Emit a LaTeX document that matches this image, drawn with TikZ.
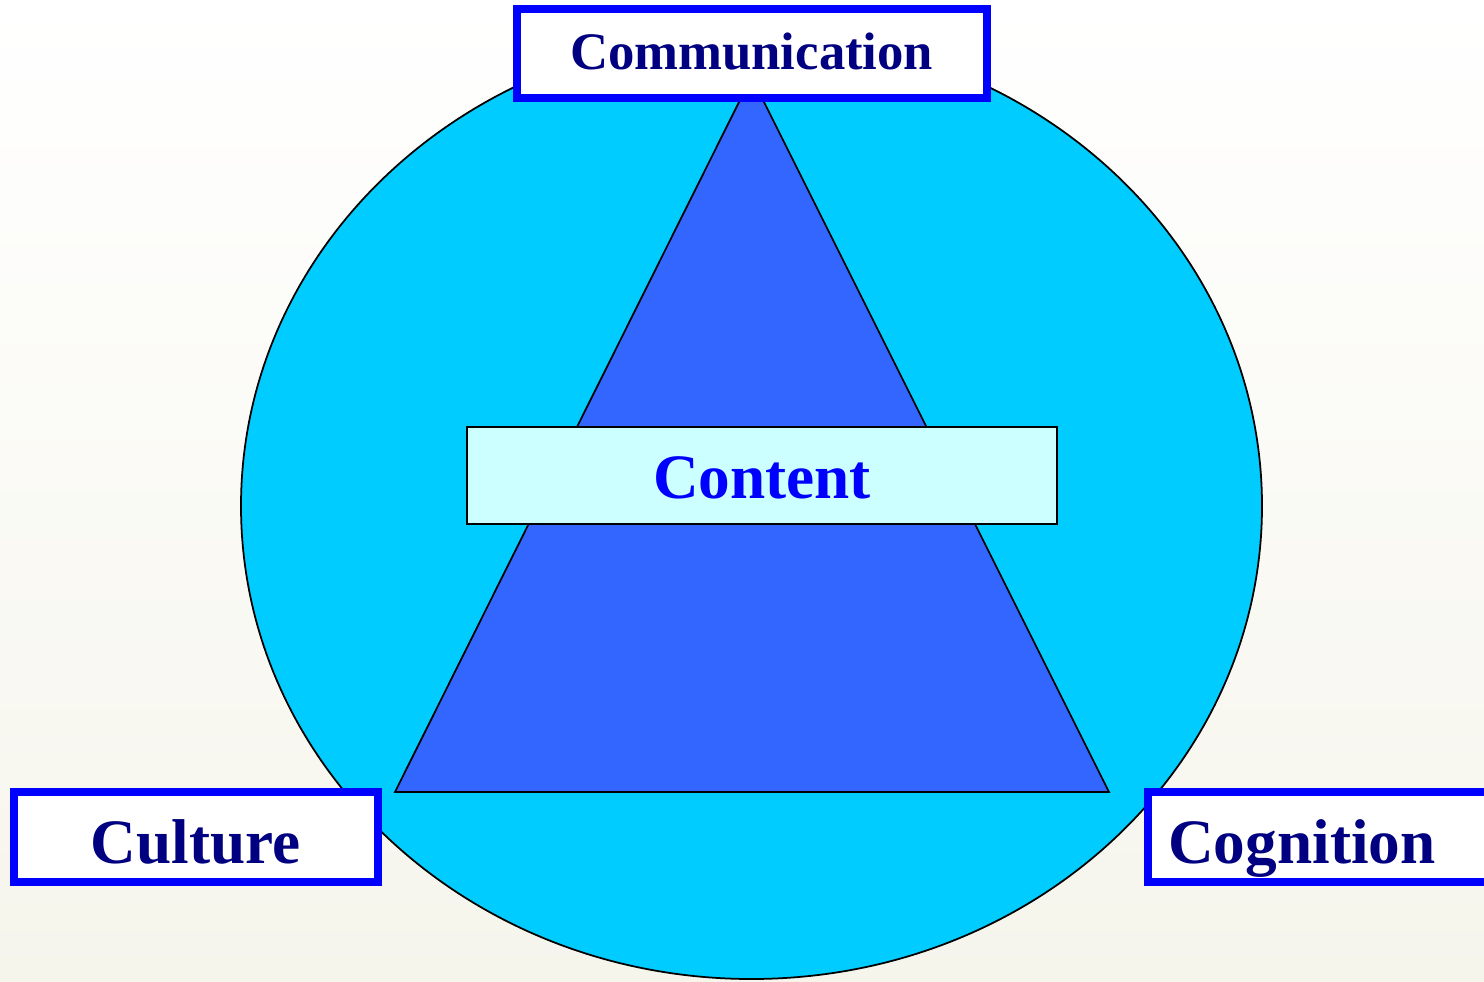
\documentclass[tikz,border=0pt]{standalone}
\usepackage{fontspec}
\setmainfont{Liberation Serif}

\definecolor{skyfill}{HTML}{00CCFF}
\definecolor{trifill}{HTML}{3366FF}
\definecolor{palecyan}{HTML}{CCFFFF}
\definecolor{navytext}{HTML}{000080}
\definecolor{boxblue}{HTML}{0000FF}
\definecolor{paper}{HTML}{F6F5EC}

\begin{document}
\begin{tikzpicture}[
	labelbox/.style={draw=boxblue, line width=0.08cm, fill=white, text=navytext,
		font=\bfseries\fontsize{18}{20}\selectfont, inner sep=0pt, outer sep=0pt,
		minimum height=0.897cm, text height=0.56cm, text depth=0.04cm},
	]
	\useasboundingbox (0,0) rectangle (14.84,9.81);
	\clip (0,0) rectangle (14.84,9.81);
	\shade[top color=white, bottom color=paper] (0,0) rectangle (14.84,9.81);
	% big disc and the triangle on it
	\filldraw[fill=skyfill, draw=black, line width=0.5pt] (7.515,4.75) ellipse [x radius=5.105, y radius=4.73];
	\coordinate (t0) at (7.515,9.04);
	\coordinate (t1) at (3.95,1.89);
	\coordinate (t2) at (11.09,1.89);
	\filldraw[fill=trifill, draw=black, line width=0.5pt] (t0) -- (t1) -- (t2) -- cycle;
	% middle band
	\path (7.62,5.055) node[draw=black, line width=0.6pt, fill=palecyan, minimum width=5.9cm, minimum height=0.97cm,
		text=boxblue, font=\bfseries\fontsize{18}{20}\selectfont, text height=0.5cm, text depth=0.05cm] (cont) {Content};
	% corner labels
	\path (7.517,9.277) node[labelbox, minimum width=4.70cm, minimum height=0.887cm,
		font=\bfseries\fontsize{15}{18}\selectfont, text height=0.4cm, text depth=0.066cm] (comm) {Communication};
	\path (1.958,1.438) node[labelbox, minimum width=3.637cm] (cult) {Culture};
	\path (11.483,1.438) node[labelbox, anchor=west, text width=3.6cm, align=left, inner xsep=0.2cm] (cogn) {Cognition};
\end{tikzpicture}
\end{document}
